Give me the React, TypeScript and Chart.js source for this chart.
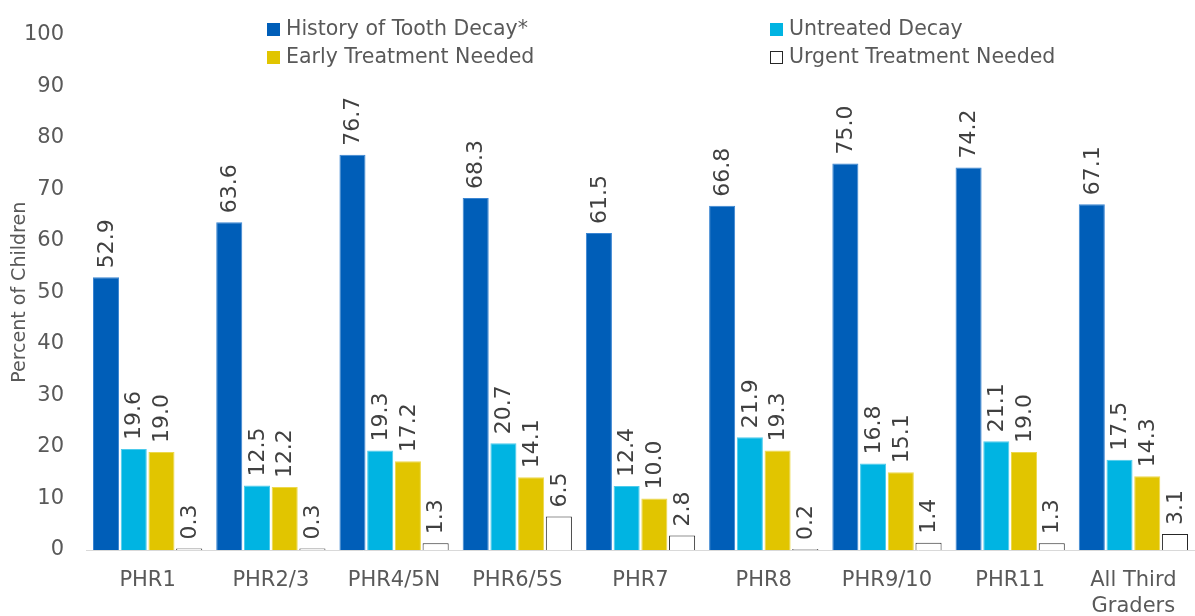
import React, { useEffect, useRef } from "react";
import { Chart, registerables } from "chart.js";

Chart.register(...registerables);

const categories: (string | string[])[] = [
  "PHR1",
  "PHR2/3",
  "PHR4/5N",
  "PHR6/5S",
  "PHR7",
  "PHR8",
  "PHR9/10",
  "PHR11",
  ["All Third", "Graders"],
];

const seriesNames = [
  "History of Tooth Decay*",
  "Untreated Decay",
  "Early Treatment Needed",
  "Urgent Treatment Needed",
];

const historyOfDecay = [52.9, 63.6, 76.7, 68.3, 61.5, 66.8, 75.0, 74.2, 67.1];
const untreatedDecay = [19.6, 12.5, 19.3, 20.7, 12.4, 21.9, 16.8, 21.1, 17.5];
const earlyTreatment = [19.0, 12.2, 17.2, 14.1, 10.0, 19.3, 15.1, 19.0, 14.3];
const urgentTreatment = [0.3, 0.3, 1.3, 6.5, 2.8, 0.2, 1.4, 1.3, 3.1];

const yTicks = [0, 10, 20, 30, 40, 50, 60, 70, 80, 90, 100];

const FONT = "'DejaVu Sans', Verdana, sans-serif";
const TEXT = "#595959";

const fills = ["#005EB8", "#00B4E2", "#E1C500", "#FFFFFF"];
const borders = ["#3A85D2", "#4CCBEC", "#EDD84C", "#262626"];

const legendPlugin = {
  id: "customLegend",
  afterDraw(chart: any) {
    const ctx = chart.ctx;
    const pos = [
      { x: 267, y: 23 },
      { x: 770, y: 23 },
      { x: 267, y: 51 },
      { x: 770, y: 51 },
    ];
    ctx.save();
    ctx.font = `20.5px ${FONT}`;
    ctx.textBaseline = "middle";
    ctx.textAlign = "left";
    chart.data.datasets.forEach((ds: any, i: number) => {
      const p = pos[i];
      ctx.fillStyle = ds.backgroundColor;
      ctx.fillRect(p.x, p.y, 13, 13);
      if (i === 3) {
        ctx.strokeStyle = "#262626";
        ctx.lineWidth = 1;
        ctx.strokeRect(p.x + 0.5, p.y + 0.5, 12, 12);
      }
      ctx.fillStyle = TEXT;
      ctx.fillText(ds.label, p.x + 19, p.y + 7);
    });
    ctx.restore();
  },
};

const labelPlugin = {
  id: "barLabels",
  afterDatasetsDraw(chart: any) {
    const ctx = chart.ctx;
    ctx.save();
    ctx.font = `22px ${FONT}`;
    ctx.fillStyle = "#404040";
    ctx.textAlign = "left";
    ctx.textBaseline = "middle";
    chart.data.datasets.forEach((ds: any, di: number) => {
      const meta = chart.getDatasetMeta(di);
      meta.data.forEach((bar: any, i: number) => {
        const v = ds.data[i] as number;
        ctx.save();
        ctx.translate(bar.x + 1, bar.y - 9);
        ctx.rotate(-Math.PI / 2);
        ctx.fillText(v.toFixed(1), 0, 0);
        ctx.restore();
      });
    });
    ctx.restore();
  },
};

export default function App() {
  const ref = useRef<HTMLCanvasElement | null>(null);

  useEffect(() => {
    document.body.style.margin = "0";
    if (!ref.current) return;
    const data = [historyOfDecay, untreatedDecay, earlyTreatment, urgentTreatment];
    const chart = new Chart(ref.current, {
      type: "bar",
      data: {
        labels: categories,
        datasets: data.map((d, i) => ({
          label: seriesNames[i],
          data: d,
          backgroundColor: fills[i],
          borderColor: borders[i],
          borderWidth: 1,
          categoryPercentage: 0.9,
          barPercentage: 0.94,
        })),
      },
      options: {
        animation: false,
        responsive: false,
        maintainAspectRatio: false,
        layout: { padding: { top: 22, right: 0, left: 0, bottom: 0 } },
        plugins: {
          legend: { display: false },
          tooltip: { enabled: false },
        },
        scales: {
          x: {
            grid: { display: false, drawTicks: false },
            border: { display: true, color: "#D9D9D9", width: 1 },
            ticks: {
              color: TEXT,
              font: { family: FONT, size: 21, lineHeight: 1.25 },
              padding: 17,
              maxRotation: 0,
              autoSkip: false,
            },
            afterFit(scale: any) {
              scale.height = 66;
            },
          },
          y: {
            min: 0,
            max: 100,
            afterBuildTicks(scale: any) {
              scale.ticks = yTicks.map((v) => ({ value: v }));
            },
            grid: { display: false, drawTicks: false },
            border: { display: false },
            ticks: {
              color: TEXT,
              font: { family: FONT, size: 21 },
              padding: 22,
            },
            title: {
              display: true,
              text: "Percent of Children",
              color: TEXT,
              font: { family: FONT, size: 19 },
              padding: { top: 9, bottom: 0 },
            },
            afterFit(scale: any) {
              scale.width = 86;
            },
          },
        },
      },
      plugins: [legendPlugin, labelPlugin],
    });
    return () => chart.destroy();
  }, []);

  return (
    <div style={{ width: 1195, height: 616 }}>
      <canvas ref={ref} width={1195} height={616} style={{ display: "block" }} />
    </div>
  );
}
